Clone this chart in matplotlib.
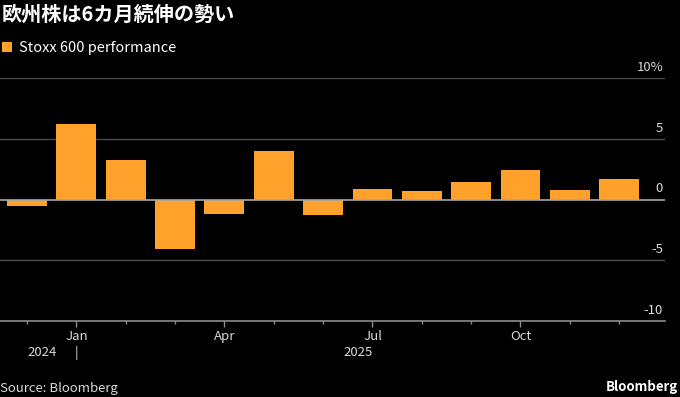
import matplotlib.pyplot as plt
import matplotlib.transforms as mtransforms
import numpy as np

months = ['2024-12', '2025-01', '2025-02', '2025-03', '2025-04', '2025-05', '2025-06',
          '2025-07', '2025-08', '2025-09', '2025-10', '2025-11', '2025-12']
values = [-0.52, 6.25, 3.27, -4.1, -1.18, 3.97, -1.29, 0.86, 0.71, 1.43, 2.42, 0.77, 1.70]
month_labels = {'2025-01': 'Jan', '2025-04': 'Apr', '2025-07': 'Jul', '2025-10': 'Oct'}
yticks = [10, 5, 0, -5, -10]

bar_color = '#ffa12b'
grid_color = '#4d4d4d'
text_color = '#d9d9d9'

plt.rcParams['font.family'] = ['Noto Sans CJK JP', 'DejaVu Sans']

fig = plt.figure(figsize=(6.8, 3.97), dpi=100, facecolor='black')
ax = fig.add_axes([0.0, 0.1914, 0.978, 0.612], facecolor='black')

x = np.arange(len(months))
ax.bar(x, values, width=0.81, color=bar_color, zorder=3, label='Stoxx 600 performance')

ax.set_xlim(-0.55, 12.93)
ax.set_ylim(-10, 10)

# gridlines and labels above them
for v in yticks:
    if v == 0:
        ax.axhline(v, color='#a6a6a6', lw=1.2, zorder=4)
    elif v != -10:
        ax.axhline(v, color=grid_color, lw=1, zorder=1)
trans = mtransforms.blended_transform_factory(ax.transAxes, ax.transData)
for v in yticks:
    lab = '10%' if v == 10 else str(v)
    ax.text(0.997, v + 0.35, lab, transform=trans, ha='right', va='bottom',
            color=text_color, fontsize=9.5)

for s in ['top', 'right', 'left']:
    ax.spines[s].set_visible(False)
ax.spines['bottom'].set_color('#8c8c8c')
ax.spines['bottom'].set_linewidth(1.2)
ax.set_yticks([])

major = [i for i, m in enumerate(months) if m in month_labels]
minor = [i for i, m in enumerate(months) if m not in month_labels]
ax.set_xticks(major)
ax.set_xticklabels([month_labels[months[i]] for i in major])
ax.set_xticks(minor, minor=True)
ax.tick_params(axis='x', which='major', length=4.5, width=1, color='#8c8c8c',
               labelcolor=text_color, labelsize=9.5, pad=2)
ax.tick_params(axis='x', which='minor', length=2.2, width=1, color='#8c8c8c')

# year labels
ytrans = mtransforms.blended_transform_factory(ax.transData, fig.transFigure)
ax.text(0.6, 0.111, '2024', transform=ytrans, ha='right', va='center',
        color=text_color, fontsize=9.5)
ax.text(1.0, 0.111, '|', transform=ytrans, ha='center', va='center',
        color=text_color, fontsize=9.5)
ax.text(7.0, 0.111, '2025', transform=ytrans, ha='right', va='center',
        color=text_color, fontsize=9.5)

fig.text(0.003, 0.963, '欧州株は6カ月続伸の勢い', color='white', fontsize=14.5,
         fontweight='bold', ha='left', va='center')
leg = fig.legend(loc='upper left', bbox_to_anchor=(-0.016, 0.93), frameon=False,
                 handlelength=0.7, handleheight=0.7, handletextpad=0.45,
                 fontsize=10.5, labelcolor='white')
fig.text(0.0, 0.022, 'Source: Bloomberg', color=text_color, fontsize=9.5, ha='left',
         va='center')
fig.text(0.997, 0.025, 'Bloomberg', color='white', fontsize=9.5, fontweight='bold',
         ha='right', va='center')

fig.savefig('out.png', dpi=100, facecolor='black')
